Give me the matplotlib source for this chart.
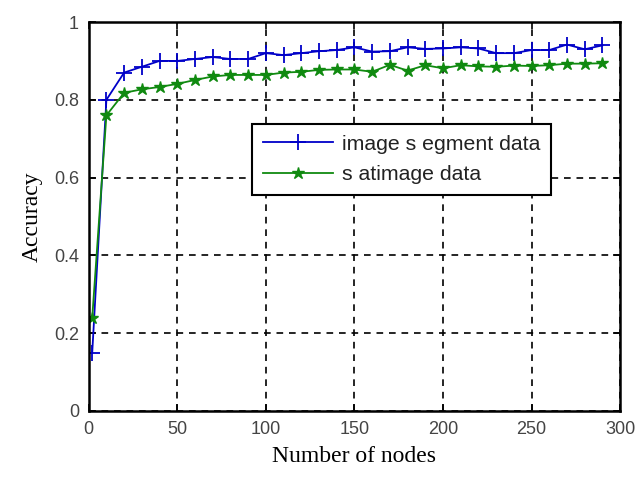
import matplotlib
matplotlib.use("Agg")
import matplotlib.pyplot as plt

# data
nodes = [2, 10, 20, 30, 40, 50, 60, 70, 80, 90, 100, 110, 120, 130, 140,
         150, 160, 170, 180, 190, 200, 210, 220, 230, 240, 250, 260, 270, 280, 290]
acc_segment = [0.15, 0.80, 0.87, 0.885, 0.90, 0.90, 0.905, 0.91, 0.905, 0.905,
               0.92, 0.915, 0.92, 0.925, 0.928, 0.935, 0.924, 0.925, 0.935, 0.931,
               0.932, 0.935, 0.932, 0.92, 0.92, 0.928, 0.928, 0.942, 0.93, 0.94]
acc_satimage = [0.24, 0.76, 0.818, 0.827, 0.833, 0.841, 0.851, 0.86, 0.864, 0.864,
                0.864, 0.870, 0.872, 0.877, 0.878, 0.878, 0.872, 0.89, 0.875, 0.889,
                0.881, 0.889, 0.886, 0.885, 0.888, 0.887, 0.889, 0.893, 0.893, 0.894]
labels = ["image s egment data", "s atimage data"]
xticks = [0, 50, 100, 150, 200, 250, 300]
yticks = [0, 0.2, 0.4, 0.6, 0.8, 1]

fig = plt.figure(figsize=(6.38, 4.79), dpi=100)
ax = fig.add_axes([0.139, 0.142, 0.833, 0.812])

ax.plot(nodes, acc_segment, color="#0000c8", marker="+", markersize=12,
        markeredgewidth=1.3, linewidth=1.3, label=labels[0])
ax.plot(nodes, acc_satimage, color="#108a10", marker="*", markersize=9,
        linewidth=1.3, label=labels[1])

ax.set_xlim(0, 300)
ax.set_ylim(0, 1)
ax.set_xticks(xticks)
ax.set_yticks(yticks)
ax.set_yticklabels(["0", "0.2", "0.4", "0.6", "0.8", "1"])

for t in ax.get_xticklabels() + ax.get_yticklabels():
    t.set_fontfamily("Liberation Sans")
    t.set_fontsize(13)
    t.set_color("#444444")

ax.tick_params(direction="in", top=True, right=True, length=5, width=1.2, pad=7)
ax.grid(True, color="black", linestyle=(0, (4, 3.5)), linewidth=1.2)
for s in ax.spines.values():
    s.set_linewidth(1.8)

ax.set_xlabel("Number of nodes", fontfamily="Liberation Serif", fontsize=17, labelpad=6)
ax.set_ylabel("Accuracy", fontfamily="Liberation Serif", fontsize=17, labelpad=8)

leg = ax.legend(loc="upper left", bbox_to_anchor=(0.308, 0.738),
                prop={"family": "Liberation Sans", "size": 15.3},
                fancybox=False, framealpha=1, edgecolor="black",
                handlelength=3.3, borderpad=0.5, labelspacing=0.55,
                handletextpad=0.4, borderaxespad=0)
leg.get_frame().set_linewidth(1.5)
for t in leg.get_texts():
    t.set_color("#222222")

fig.savefig("out.png", dpi=100)
